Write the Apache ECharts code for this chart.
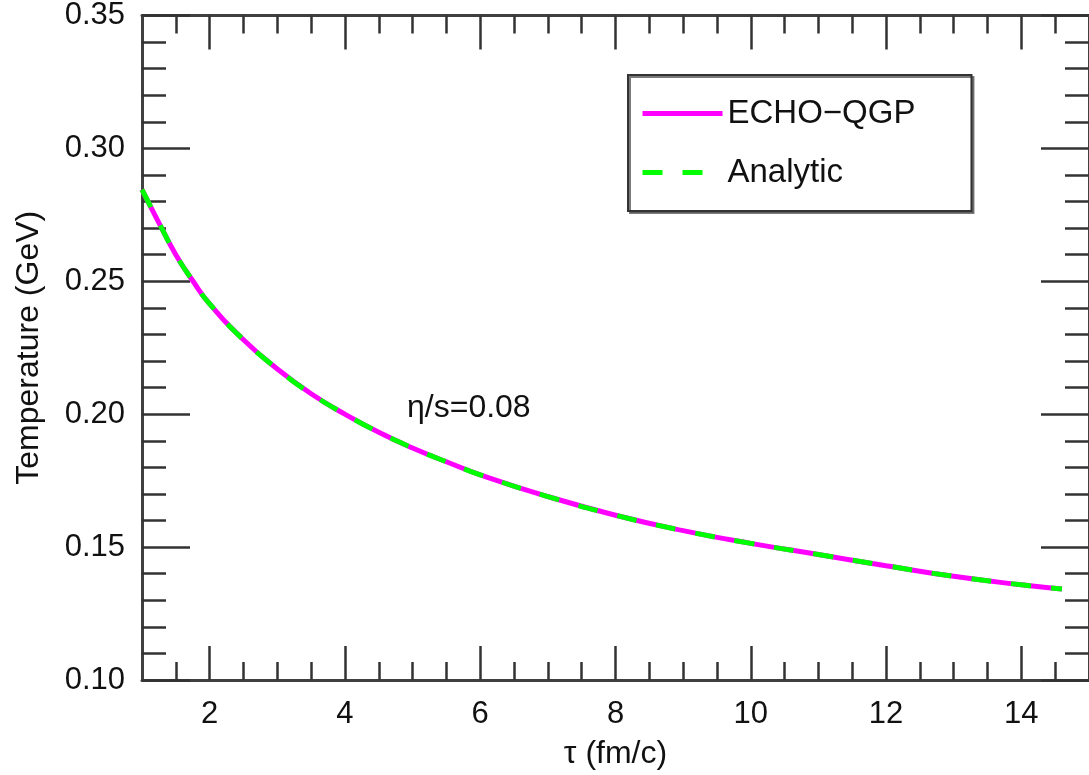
<!DOCTYPE html>
<html>
<head>
<meta charset="utf-8">
<script src="https://cdn.jsdelivr.net/npm/echarts@6/dist/echarts.min.js"></script>
<style>
html,body{margin:0;padding:0;background:#fff;}
#chart{width:1089px;height:775px;}
</style>
</head>
<body>
<div id="chart"></div>
<script>
// ---- data ----
const tau = [1.0, 1.25, 1.5, 1.75, 2.0, 2.5, 3.0, 3.5, 4.0, 4.5, 5.0, 5.5, 6.0, 7.0, 8.0, 9.0, 10.0, 11.0, 12.0, 13.0, 14.0, 14.6];
const tempEcho = [0.2845, 0.2720, 0.2600, 0.2502, 0.2415, 0.2280, 0.2170, 0.2077, 0.2000, 0.1932, 0.1873, 0.1821, 0.1772, 0.1690, 0.1620, 0.1562, 0.1514, 0.1472, 0.1430, 0.1390, 0.1358, 0.1342];
const tempAnalytic = [0.2845, 0.2720, 0.2600, 0.2502, 0.2415, 0.2280, 0.2170, 0.2077, 0.2000, 0.1932, 0.1873, 0.1821, 0.1772, 0.1690, 0.1620, 0.1562, 0.1514, 0.1472, 0.1430, 0.1390, 0.1358, 0.1342];
const xMajorTicks = [2, 4, 6, 8, 10, 12, 14];
const xMinorTicks = [1.5, 2.5, 3, 3.5, 4.5, 5, 5.5, 6.5, 7, 7.5, 8.5, 9, 9.5, 10.5, 11, 11.5, 12.5, 13, 13.5, 14.5];
const seriesNames = ['ECHO\u2212QGP', 'Analytic'];
const annotation = '\u03b7/s=0.08';

const FONT = '"Liberation Sans", Arial, Helvetica, sans-serif';
const AXIS_COLOR = '#404040';

const chart = echarts.init(document.getElementById('chart'), null, {renderer: 'canvas'});

function xAxisDef(pos, ticks, len, showLine, showLabel, name) {
  return {
    type: 'value', position: pos, offset: 0, min: 1, max: 15,
    gridIndex: 0,
    name: name || '', nameLocation: 'middle', nameGap: 58,
    nameTextStyle: {fontFamily: FONT, fontSize: 32, color: '#111'},
    axisLine: {show: showLine, onZero: false, lineStyle: {color: AXIS_COLOR, width: 3}},
    axisTick: {show: true, inside: true, length: len, customValues: ticks, lineStyle: {color: '#333', width: 2.5}},
    axisLabel: {show: showLabel, customValues: xMajorTicks, margin: 19, fontFamily: FONT, fontSize: 31, color: '#111'},
    splitLine: {show: false}, minorTick: {show: false}
  };
}
function yAxisDef(pos, showLabel, name) {
  return {
    type: 'value', position: pos, offset: 0, min: 0.10, max: 0.35, interval: 0.05,
    name: name || '', nameLocation: 'middle', nameGap: 97,
    nameTextStyle: {fontFamily: FONT, fontSize: 32, color: '#111'},
    axisLine: {show: true, onZero: false, lineStyle: {color: AXIS_COLOR, width: 3}},
    axisTick: {show: true, inside: true, length: 48, lineStyle: {color: '#333', width: 2.5}},
    minorTick: {show: true, splitNumber: 5, length: 24, lineStyle: {color: '#333', width: 2.5}},
    axisLabel: {show: showLabel, margin: 17, fontFamily: FONT, fontSize: 31, color: '#111',
      formatter: v => v.toFixed(2)},
    splitLine: {show: false}, minorSplitLine: {show: false}
  };
}

const option = {
  animation: false,
  backgroundColor: '#ffffff',
  grid: {left: 142, top: 15, width: 956, height: 671, containLabel: false},
  xAxis: [
    xAxisDef('bottom', xMajorTicks, 34, true, true, '\u03c4 (fm/c)'),
    xAxisDef('bottom', xMinorTicks, 18, false, false),
    xAxisDef('top', xMajorTicks, 34, true, false),
    xAxisDef('top', xMinorTicks, 18, false, false)
  ],
  yAxis: [
    yAxisDef('left', true, 'Temperature (GeV)'),
    yAxisDef('right', false)
  ],
  legend: {
    orient: 'vertical', left: 628, top: 75,
    padding: [22, 56, 22, 12],
    itemWidth: 80, itemHeight: 30, itemGap: 26, itemTextGap: 12,
    borderColor: '#333', borderWidth: 2, borderRadius: 0,
    backgroundColor: '#fff',
    shadowColor: 'rgba(90,90,90,0.8)', shadowOffsetX: 2, shadowOffsetY: 2, shadowBlur: 0,
    itemStyle: {opacity: 0},
    lineStyle: {width: 5},
    textStyle: {fontFamily: FONT, fontSize: 33, color: '#111'},
    data: seriesNames
  },
  graphic: [{
    type: 'text', left: 407, top: 392,
    style: {text: annotation, font: '32px ' + FONT, fill: '#111'}
  }],
  series: [
    {
      name: seriesNames[0], type: 'line', xAxisIndex: 0, yAxisIndex: 0,
      smooth: true, symbol: 'none', showSymbol: false,
      lineStyle: {color: '#ff00ff', width: 5, type: 'solid'},
      itemStyle: {color: '#ff00ff'},
      data: tau.map((t, i) => [t, tempEcho[i]])
    },
    {
      name: seriesNames[1], type: 'line', xAxisIndex: 0, yAxisIndex: 0,
      smooth: true, symbol: 'none', showSymbol: false,
      lineStyle: {color: '#00ff00', width: 5, type: [20, 20]},
      itemStyle: {color: '#00ff00'},
      data: tau.map((t, i) => [t, tempAnalytic[i]])
    }
  ]
};
chart.setOption(option);
</script>
</body>
</html>
